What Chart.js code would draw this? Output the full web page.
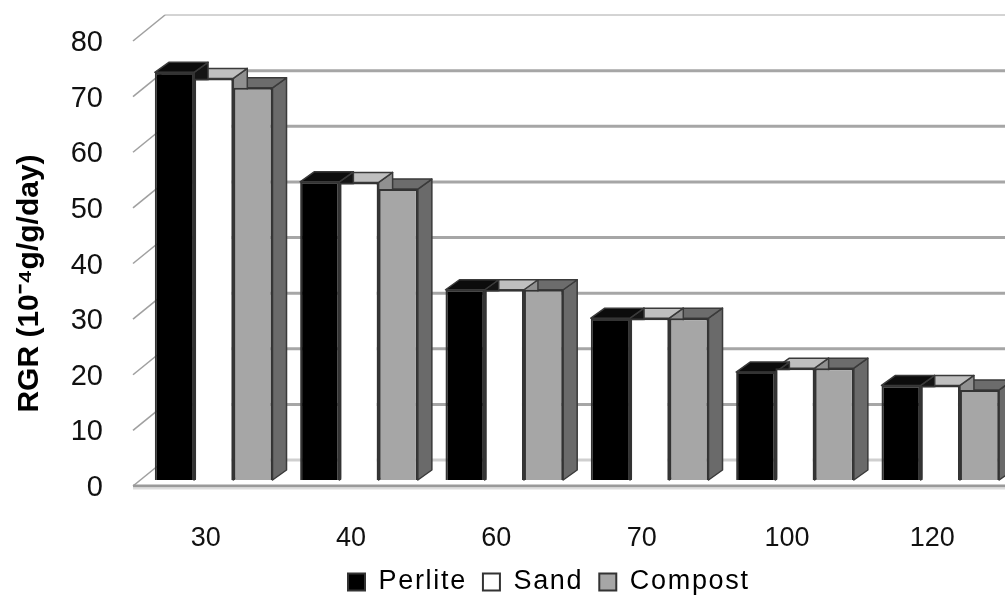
<!DOCTYPE html>
<html><head><meta charset="utf-8">
<style>html,body{margin:0;padding:0;background:#fff;overflow:hidden}canvas{display:block}</style>
<script src="https://cdn.jsdelivr.net/npm/chart.js@4"></script>
</head><body><canvas id="c" width="1005" height="597"></canvas>
<script>
const categories = ['30','40','60','70','100','120'];
const perlite = [73.3,53.6,34.2,29.1,19.4,17.0];
const sand    = [72.2,53.5,34.2,29.1,20.1,17.0];
const compost = [70.5,52.3,34.2,29.1,20.1,16.2];
const yTicks = [0,10,20,30,40,50,60,70,80];
const faceColors = ['#000000','#ffffff','#a6a6a6'];
const sideColors = ['#141414','#909090','#6a6a6a'];
const topColors  = ['#0c0c0c','#bfbfbf','#6c6c6c'];

const wall = {dx:32, dy:-26};
const depth = {dx:14, dy:-10};
const barShift = {dx:8, dy:-6};

function poly(ctx, pts, fill){
  ctx.beginPath();
  pts.forEach((p,i)=> i?ctx.lineTo(p[0],p[1]):ctx.moveTo(p[0],p[1]));
  ctx.closePath();
  ctx.fillStyle=fill; ctx.fill();
  ctx.strokeStyle='#3a3a3a'; ctx.lineWidth=1.5; ctx.stroke();
}

const wallPlugin = {
  id:'wall',
  beforeDatasetsDraw(chart){
    const {ctx, scales:{y}, chartArea:a} = chart;
    ctx.save();
    yTicks.forEach(v=>{
      const py = y.getPixelForValue(v);
      ctx.beginPath();
      ctx.moveTo(a.left+wall.dx, py+wall.dy);
      ctx.lineTo(a.right, py+wall.dy);
      ctx.strokeStyle = v===80 ? '#a8a8a8' : (v===0 ? '#cfcfcf' : '#a6a6a6');
      ctx.lineWidth = v===80 ? 1 : 3;
      ctx.stroke();
      ctx.beginPath();
      ctx.moveTo(a.left, py);
      ctx.lineTo(a.left+wall.dx, py+wall.dy);
      ctx.strokeStyle='#a0a0a0'; ctx.lineWidth=1.6;
      ctx.stroke();
    });
    const p0 = y.getPixelForValue(0);
    ctx.beginPath(); ctx.moveTo(a.left,p0); ctx.lineTo(a.right,p0);
    ctx.strokeStyle='#9a9a9a'; ctx.lineWidth=3; ctx.stroke();
    ctx.beginPath(); ctx.moveTo(a.left,p0+2.5); ctx.lineTo(a.right,p0+2.5);
    ctx.strokeStyle='#dddddd'; ctx.lineWidth=2; ctx.stroke();
    ctx.restore();

    ctx.save();
    ctx.translate(barShift.dx, barShift.dy);
    ctx.lineJoin='round';
    const n = chart.data.labels.length;
    for(let i=0;i<n;i++){
      for(let d=chart.data.datasets.length-1;d>=0;d--){
        const b = chart.getDatasetMeta(d).data[i];
        const l=b.x-b.width/2, r=b.x+b.width/2, t=b.y, bt=b.base;
        poly(ctx,[[r,t],[r+depth.dx,t+depth.dy],[r+depth.dx,bt+depth.dy],[r,bt]],sideColors[d]);
        poly(ctx,[[l,t],[l+depth.dx,t+depth.dy],[r+depth.dx,t+depth.dy],[r,t]],topColors[d]);
      }
    }
    ctx.restore();
    ctx.save();
    ctx.translate(barShift.dx, barShift.dy);
  },
  afterDatasetsDraw(chart){ chart.ctx.restore(); },
  afterInit(chart){
    const lg = chart.legend, ctx = chart.ctx;
    ['fit','draw'].forEach(m=>{
      const orig = lg[m];
      lg[m] = function(...args){
        ctx.save(); ctx.letterSpacing='1.7px';
        const r = orig.apply(this,args);
        ctx.restore(); return r;
      };
    });
  },
  afterLayout(chart){
    const lg = chart.legend, ctx = chart.ctx;
    lg.left = 0;
    lg.right = 2*348 - 16 + lg.lineWidths[0];
    lg.width = lg.right;
    lg.top = 552.5; lg.bottom = 597;
    chart.scales.x.bottom = 597;
    const ys = chart.scales.y;
    if(!ys._shifted){
      ys._shifted = true;
      const orig = ys.drawTitle;
      ys.drawTitle = function(...args){
        ctx.save(); ctx.translate(0,20);
        orig.apply(this,args);
        ctx.restore();
      };
    }
  }
};

new Chart(document.getElementById('c'),{
  type:'bar',
  data:{
    labels:categories,
    datasets:[
      {label:'Perlite',data:perlite,backgroundColor:faceColors[0],borderColor:'#333333',borderWidth:2},
      {label:'Sand',data:sand,backgroundColor:faceColors[1],borderColor:'#333333',borderWidth:2},
      {label:'Compost',data:compost,backgroundColor:faceColors[2],borderColor:'#333333',borderWidth:2}
    ]
  },
  plugins:[wallPlugin],
  options:{
    responsive:false,
    animation:false,
    devicePixelRatio:1,
    layout:{autoPadding:false,padding:{top:41,right:0,bottom:0,left:0}},
    datasets:{bar:{barPercentage:1,categoryPercentage:0.81,clip:false}},
    plugins:{
      tooltip:{enabled:false},
      legend:{
        position:'bottom',
        labels:{
          boxWidth:17,boxHeight:17,padding:16,color:'#000',
          font:{family:'"Liberation Sans"',size:27},
          generateLabels(chart){
            return chart.data.datasets.map((d,i)=>({
              text:d.label,fillStyle:faceColors[i],strokeStyle:'#333333',lineWidth:2,datasetIndex:i,hidden:false
            }));
          }
        }
      }
    },
    scales:{
      x:{
        grid:{display:false,drawTicks:false},
        border:{display:false},
        afterFit(s){s.height=58;},
        ticks:{padding:36,color:'#111',maxRotation:0,font:{family:'"Liberation Sans"',size:27}}
      },
      y:{
        min:0,max:80,
        afterFit(s){s.width=133;s.paddingTop=0;s.paddingBottom=0;},
        grid:{display:false,drawTicks:false},
        border:{display:false},
        ticks:{stepSize:10,padding:30,labelOffset:2,color:'#111',font:{family:'"Liberation Sans"',size:29}},
        title:{display:true,text:'RGR (10\u207B\u2074g/g/day)',color:'#000',padding:{top:12,bottom:0},
          font:{family:'"Liberation Sans"',size:30,weight:'bold'}}
      }
    }
  }
});
</script></body></html>
